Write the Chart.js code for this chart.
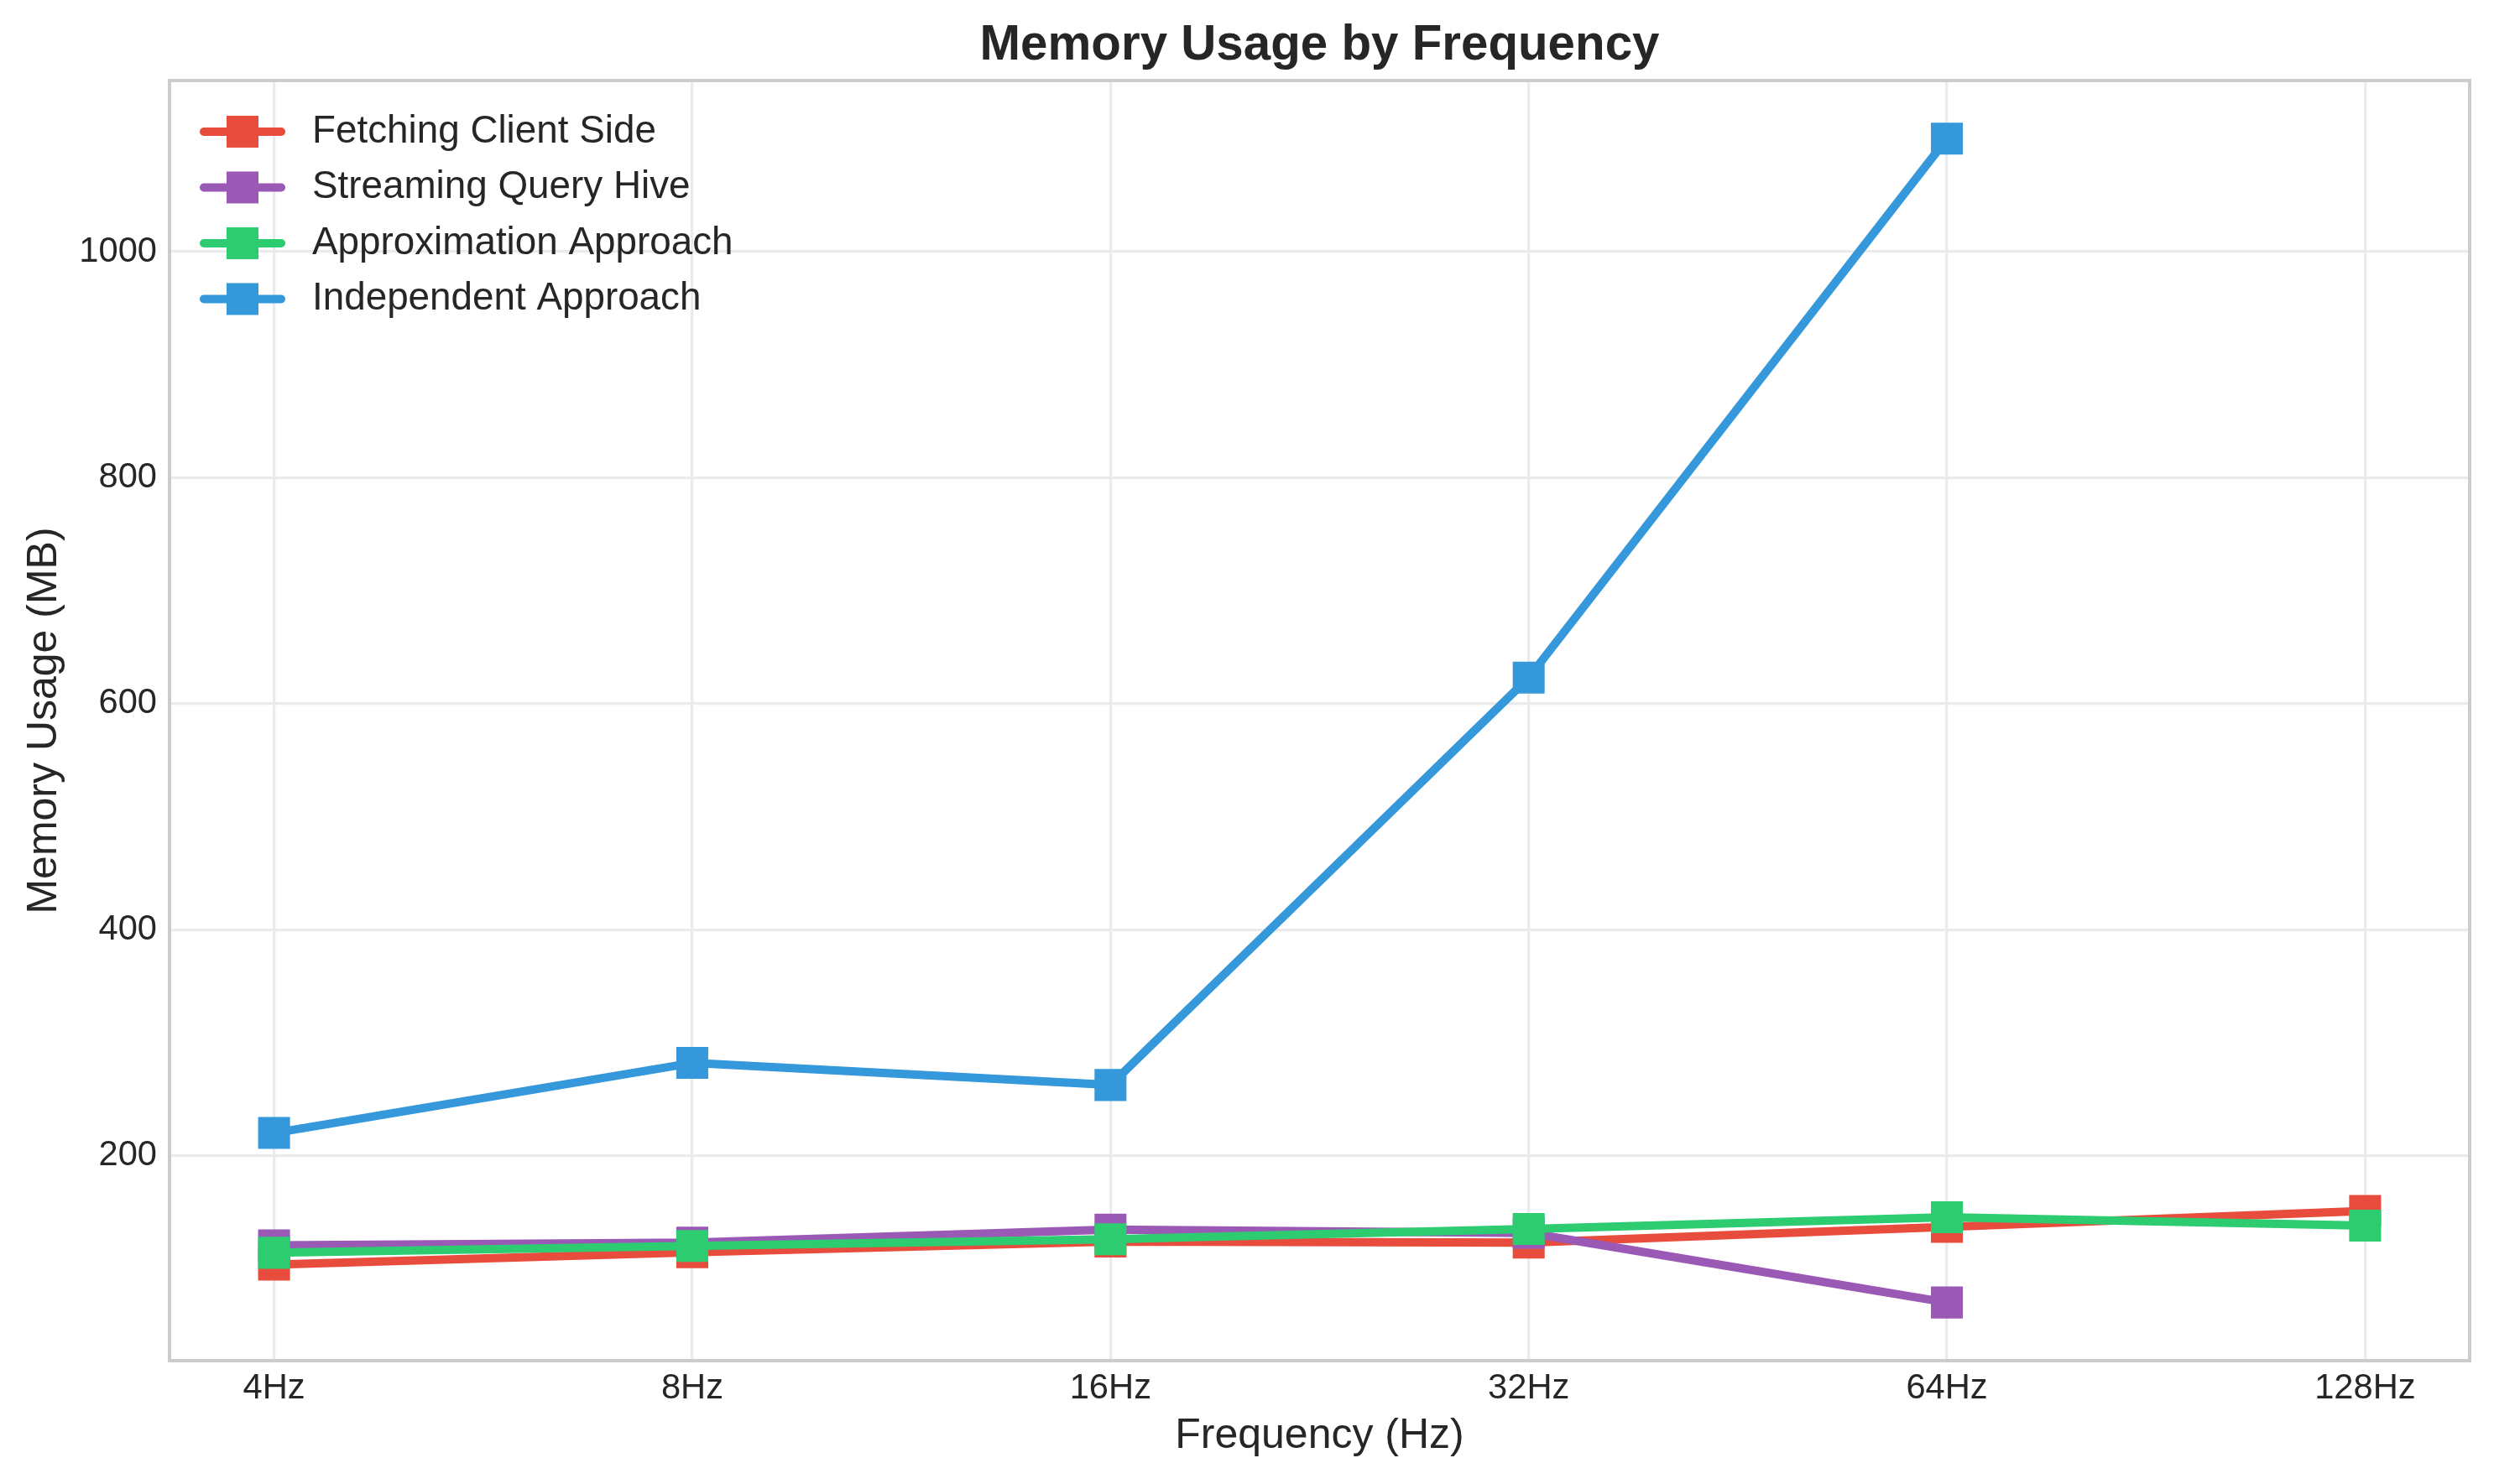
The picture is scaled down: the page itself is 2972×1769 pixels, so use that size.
<!DOCTYPE html>
<html>
<head>
<meta charset="utf-8">
<title>Memory Usage by Frequency</title>
<script src="https://cdn.jsdelivr.net/npm/chart.js@4.4.0/dist/chart.umd.min.js"></script>
<style>
  html, body { margin: 0; padding: 0; background: #fff; }
  canvas { display: block; }
</style>
</head>
<body>
<canvas id="memChart" width="2972" height="1769"></canvas>
<script>
// values (MB)
const frequencies = ['4Hz', '8Hz', '16Hz', '32Hz', '64Hz', '128Hz'];
const fetchingClient = [103.5, 114.5, 124, 123, 137, 151];
const streamingHive = [120.5, 123, 134.5, 131.5, 70, null];
const approximation = [114, 120, 126, 135, 145.5, 138];
const independent = [220, 282, 262.5, 623, 1100, null];
const yTicks = [200, 400, 600, 800, 1000];

const FONT = '"Liberation Sans", Arial, sans-serif';
const TEXT = '#262626';

function toPoints(values) {
  return values.map((v, i) => ({ x: i, y: v }));
}

function series(label, values, color, order) {
  return {
    label: label,
    data: toPoints(values),
    borderColor: color,
    backgroundColor: color,
    borderWidth: 10,
    borderJoinStyle: 'round',
    tension: 0,
    pointStyle: 'rect',
    pointRadius: 26.9,
    pointHoverRadius: 26.9,
    pointBorderWidth: 0,
    pointBackgroundColor: color,
    order: order
  };
}

// legend drawn inside the plot, upper left, like the original
const insideLegend = {
  id: 'insideLegend',
  afterDraw(chart) {
    const ctx = chart.ctx;
    const area = chart.chartArea;
    ctx.save();
    chart.data.datasets.forEach((ds, i) => {
      const y = area.top + 61 + i * 66.5;
      const x0 = area.left + 41;
      ctx.strokeStyle = ds.borderColor;
      ctx.lineWidth = 10;
      ctx.lineCap = 'round';
      ctx.beginPath();
      ctx.moveTo(x0, y);
      ctx.lineTo(x0 + 92, y);
      ctx.stroke();
      ctx.fillStyle = ds.borderColor;
      ctx.fillRect(x0 + 46 - 19, y - 19, 38, 38);
      ctx.fillStyle = TEXT;
      ctx.font = '45.8px ' + FONT;
      ctx.textBaseline = 'middle';
      ctx.textAlign = 'left';
      ctx.fillText(ds.label, area.left + 170, y);
    });
    ctx.restore();
  }
};

// box round the axes
const spines = {
  id: 'spines',
  afterDatasetsDraw(chart) {
    const ctx = chart.ctx;
    const a = chart.chartArea;
    ctx.save();
    ctx.strokeStyle = '#cccccc';
    ctx.lineWidth = 4;
    ctx.strokeRect(a.left, a.top, a.right - a.left, a.bottom - a.top);
    ctx.restore();
  }
};

const config = {
  type: 'line',
  data: {
    datasets: [
      series('Fetching Client Side', fetchingClient, '#e74c3c', 3),
      series('Streaming Query Hive', streamingHive, '#9b59b6', 2),
      series('Approximation Approach', approximation, '#2ecc71', 1),
      series('Independent Approach', independent, '#3498db', 0)
    ]
  },
  options: {
    responsive: false,
    animation: false,
    devicePixelRatio: 1,
    layout: { padding: { left: 0, top: 0, right: 29, bottom: 0 } },
    plugins: {
      legend: { display: false },
      tooltip: { enabled: false },
      title: {
        display: true,
        fullSize: false,
        text: 'Memory Usage by Frequency',
        color: TEXT,
        font: { family: FONT, size: 58.3, weight: 'bold', lineHeight: 1.2 },
        padding: { top: 20, bottom: 6 }
      }
    },
    scales: {
      x: {
        type: 'linear',
        min: -0.25,
        max: 5.25,
        afterBuildTicks: (scale) => {
          scale.ticks = frequencies.map((f, i) => ({ value: i }));
        },
        afterFit: (scale) => { scale.height = 147; },
        ticks: {
          autoSkip: false,
          maxRotation: 0,
          padding: 8,
          color: TEXT,
          font: { family: FONT, size: 41.7 },
          callback: (v) => frequencies[v]
        },
        grid: { color: '#ebebeb', lineWidth: 3.3, drawTicks: false },
        border: { display: false },
        title: {
          display: true,
          text: 'Frequency (Hz)',
          color: TEXT,
          font: { family: FONT, size: 50, lineHeight: 1.2 },
          padding: { top: 0, bottom: 27 }
        }
      },
      y: {
        type: 'linear',
        min: 18.5,
        max: 1151.5,
        afterBuildTicks: (scale) => {
          scale.ticks = yTicks.map(v => ({ value: v }));
        },
        afterFit: (scale) => { scale.width = 202; },
        ticks: {
          padding: 15,
          color: TEXT,
          font: { family: FONT, size: 41.7 },
          callback: (v) => String(v)
        },
        grid: { color: '#ebebeb', lineWidth: 3.3, drawTicks: false },
        border: { display: false },
        title: {
          display: true,
          text: 'Memory Usage (MB)',
          color: TEXT,
          font: { family: FONT, size: 50, lineHeight: 1.2 },
          padding: { top: 23, bottom: 0 }
        }
      }
    }
  },
  plugins: [spines, insideLegend]
};

const memChart = new Chart(document.getElementById('memChart'), config);
</script>
</body>
</html>
